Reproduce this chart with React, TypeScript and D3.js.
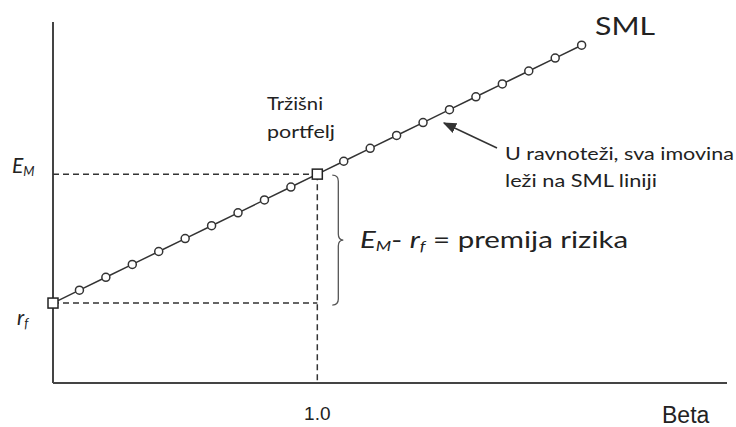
import * as d3 from "d3";

// SML points: beta and expected return (same units as EM / rf)
const betas = [0, 0.1, 0.2, 0.3, 0.4, 0.5, 0.6, 0.7, 0.8, 0.9, 1.0, 1.1, 1.2, 1.3, 1.4, 1.5, 1.6, 1.7, 1.8, 1.9, 2.0];
const returns = [3.1, 3.6, 4.1, 4.6, 5.1, 5.6, 6.1, 6.6, 7.1, 7.6, 8.1, 8.6, 9.1, 9.6, 10.1, 10.6, 11.1, 11.6, 12.1, 12.6, 13.1];
const riskFree = 3.1;
const marketReturn = 8.1;
const marketBeta = 1.0;
const xTickLabels = ["1.0"];

const W = 736;
const H = 427;
const FONT = "Lato, 'Open Sans', sans-serif";
const TICK_FONT = "'Liberation Sans', Arial, sans-serif";
const INK = "#333";
const TXT = "#222";

// text stretched to a given width (the source picture is wide-set)
function Wide({ x, y, size, width, children }: { x: number; y: number; size: number; width: number; children: string }) {
  return (
    <text x={x} y={y} fontSize={size} fill={TXT} textLength={width} lengthAdjust="spacingAndGlyphs">
      {children}
    </text>
  );
}

export default function App() {
  const x = d3.scaleLinear().domain([0, 2.55]).range([53, 727]);
  const y = d3.scaleLinear().domain([0, 14]).range([383, 22]);

  const pts = betas.map((b, i) => ({ b, r: returns[i] }));
  const line = d3
    .line<{ b: number; r: number }>()
    .x((d) => x(d.b))
    .y((d) => y(d.r));

  const x0 = x(0);
  const xm = x(marketBeta);
  const yM = y(marketReturn);
  const yF = y(riskFree);

  // curly brace opening to the left
  const bx = xm + 15;
  const bw = 6;
  const bTop = yM + 1;
  const bBot = yF + 2;
  const bMid = (bTop + bBot) / 2;
  const brace = d3.path();
  brace.moveTo(bx, bTop);
  brace.quadraticCurveTo(bx + bw, bTop, bx + bw, bTop + 6);
  brace.lineTo(bx + bw, bMid - 6);
  brace.quadraticCurveTo(bx + bw, bMid, bx + bw + 5, bMid);
  brace.quadraticCurveTo(bx + bw, bMid, bx + bw, bMid + 6);
  brace.lineTo(bx + bw, bBot - 6);
  brace.quadraticCurveTo(bx + bw, bBot, bx, bBot);

  const sq = 10;

  return (
    <svg
      width={W}
      height={H}
      style={{ position: "absolute", left: 0, top: 0, background: "#fff" }}
      fontFamily={FONT}
    >
      <defs>
        <marker id="arr" viewBox="0 0 10 10" refX="9" refY="5" markerWidth="9" markerHeight="9" orient="auto">
          <path d="M0,1 L10,5 L0,9 Z" fill={INK} />
        </marker>
      </defs>

      {/* axes */}
      <line x1={x0} x2={x0} y1={y(14)} y2={y(0)} stroke="#444" strokeWidth={2} />
      <line x1={x0} x2={x(2.55)} y1={y(0)} y2={y(0)} stroke="#444" strokeWidth={2} />

      {/* dashed guides */}
      <g stroke={INK} strokeWidth={1.5} strokeDasharray="6,4" fill="none">
        <line x1={x0} x2={xm} y1={yM} y2={yM} />
        <line x1={x0} x2={xm} y1={yF} y2={yF} />
        <line x1={xm} x2={xm} y1={yM} y2={y(0)} />
      </g>

      {/* SML */}
      <path d={line(pts) ?? ""} fill="none" stroke={INK} strokeWidth={1.5} />
      {pts
        .filter((d) => d.b !== 0 && d.b !== marketBeta)
        .map((d) => (
          <circle key={d.b} cx={x(d.b)} cy={y(d.r)} r={4} fill="#fff" stroke={INK} strokeWidth={1.5} />
        ))}
      <rect x={x0 - sq / 2} y={yF - sq / 2} width={sq} height={sq} fill="#fff" stroke="#222" strokeWidth={1.5} />
      <rect x={xm - sq / 2} y={yM - sq / 2} width={sq} height={sq} fill="#fff" stroke="#222" strokeWidth={1.5} />

      {/* brace */}
      <path d={brace.toString()} fill="none" stroke="#555" strokeWidth={1.3} />

      {/* y labels */}
      <text x={12} y={yM - 1} fontSize={21} fontStyle="italic" fill={TXT}>
        E<tspan fontSize={13} dy={3}>M</tspan>
      </text>
      <text x={17} y={yF + 22} fontSize={21} fontStyle="italic" fill={TXT}>
        r<tspan fontSize={13} dy={3}>f</tspan>
      </text>

      {/* x labels */}
      {xTickLabels.map((t) => (
        <text key={t} x={x(+t)} y={420} fontSize={19} fontFamily={TICK_FONT} textAnchor="middle" fill={TXT}>
          {t}
        </text>
      ))}
      <text x={662} y={423} fontSize={23} fontFamily={TICK_FONT} fill={TXT}>Beta</text>

      {/* annotations */}
      <Wide x={595} y={35} size={25} width={60}>SML</Wide>
      <Wide x={267} y={110} size={17} width={56}>Tržišni</Wide>
      <Wide x={267} y={138} size={17} width={68}>portfelj</Wide>

      <line x1={497} y1={148} x2={444} y2={123} stroke={INK} strokeWidth={1.5} markerEnd="url(#arr)" />
      <Wide x={505} y={160} size={18} width={229}>U ravnoteži, sva imovina</Wide>
      <Wide x={505} y={187} size={18} width={152}>leži na SML liniji</Wide>

      <g transform="translate(360,248) scale(1.28,1)">
        <text x={0} y={0} fontSize={23} fill={TXT}>
          <tspan fontStyle="italic">E</tspan>
          <tspan fontStyle="italic" fontSize={14} dy={3}>M</tspan>
          <tspan dy={-3}>- </tspan>
          <tspan fontStyle="italic">r</tspan>
          <tspan fontStyle="italic" fontSize={14} dy={3}>f</tspan>
          <tspan dy={-3}> = premija rizika</tspan>
        </text>
      </g>
    </svg>
  );
}
